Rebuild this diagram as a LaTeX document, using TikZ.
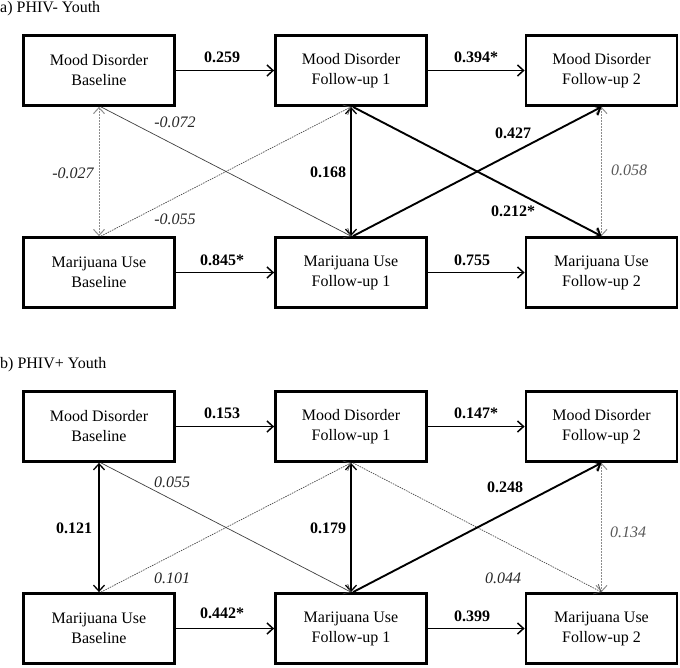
\documentclass[tikz,border=0pt]{standalone}
\usepackage{fontspec}
\setmainfont{Liberation Serif}
\usetikzlibrary{arrows.meta}
\begin{document}
\begin{tikzpicture}[x=1pt,y=-1pt,
  box/.style={draw,line width=2.8pt,minimum width=151pt,minimum height=70pt,align=center,inner sep=0pt,font=\fontsize{16}{20}\selectfont},
  ttl/.style={anchor=west,inner sep=0pt,font=\fontsize{16}{20}\selectfont},
  lb/.style={inner sep=0pt,font=\fontsize{16}{20}\selectfont\bfseries},
  li/.style={inner sep=0pt,text=black!85,font=\fontsize{16}{20}\selectfont\itshape},
  lg/.style={inner sep=0pt,text=black!65,font=\fontsize{16}{20}\selectfont\itshape},
  tip/.style={{Straight Barb[length=6pt,width=11pt]}},
  ar/.style={line width=1.5pt,-{Straight Barb[length=6pt,width=11pt]}},
  dar/.style={line width=1.3pt,{Straight Barb[length=6pt,width=11pt]}-{Straight Barb[length=6pt,width=11pt]}},
  gdar/.style={line width=1pt,black!45,dash pattern=on 2pt off 1pt,{Straight Barb[length=6pt,width=11pt]}-{Straight Barb[length=6pt,width=11pt]}},
  thick/.style={line width=1.9pt,-{Straight Barb[length=6pt,width=11pt]}},
  thin/.style={line width=0.7pt,black!75,-{Straight Barb[length=6pt,width=11pt]}},
  dthin/.style={line width=0.7pt,black!70,dash pattern=on 1.5pt off 1pt,-{Straight Barb[length=6pt,width=11pt]}}]
\useasboundingbox (0,0) rectangle (680,667);
\fill[white] (0,0) rectangle (680,667);
% ---------- panel a ----------
\node[ttl] (ta) at (0,9) {a) PHIV- Youth};
\node[box] (amd0) at (99,70.5) {Mood Disorder\\Baseline};
\node[box] (amd1) at (351,70.5) {Mood Disorder\\Follow-up 1};
\node[box] (amd2) at (601.5,70.5) {Mood Disorder\\Follow-up 2};
\node[box] (amu0) at (99,272.5) {Marijuana Use\\Baseline};
\node[box] (amu1) at (351,272.5) {Marijuana Use\\Follow-up 1};
\node[box] (amu2) at (601.5,272.5) {Marijuana Use\\Follow-up 2};
\draw[ar] (amd0) -- (amd1);
\draw[ar] (amd1) -- (amd2);
\draw[ar] (amu0) -- (amu1);
\draw[ar] (amu1) -- (amu2);
\draw[gdar] (amd0.south) -- (amu0.north);
\draw[dar] (amd1.south) -- (amu1.north);
\draw[gdar] (amd2.south) -- (amu2.north);
\draw[thin] ([xshift=2pt]amd0.south) -- (amu1.north);
\draw[dthin] ([xshift=2pt]amu0.north) -- (amd1.south);
\draw[thick] ([xshift=2pt]amd1.south) -- (amu2.north);
\draw[thick] ([xshift=2pt]amu1.north) -- (amd2.south);
\node[lb] (a1) at (222,57) {0.259};
\node[lb] (a2) at (476,57) {0.394*};
\node[lb] (a3) at (222,260) {0.845*};
\node[lb] (a4) at (472,260) {0.755};
\node[li] (a5) at (175,122) {-0.072};
\node[li] (a6) at (73,173) {-0.027};
\node[li] (a7) at (175,219) {-0.055};
\node[lb] (a8) at (328,172) {0.168};
\node[lb] (a9) at (513,133) {0.427};
\node[lg] (a10) at (629,170) {0.058};
\node[lb] (a11) at (513,211) {0.212*};
% ---------- panel b ----------
\node[ttl] (tb) at (0,365) {b) PHIV+ Youth};
\node[box] (bmd0) at (99,426.5) {Mood Disorder\\Baseline};
\node[box] (bmd1) at (351,426.5) {Mood Disorder\\Follow-up 1};
\node[box] (bmd2) at (601.5,426.5) {Mood Disorder\\Follow-up 2};
\node[box] (bmu0) at (99,628.5) {Marijuana Use\\Baseline};
\node[box] (bmu1) at (351,628.5) {Marijuana Use\\Follow-up 1};
\node[box] (bmu2) at (601.5,628.5) {Marijuana Use\\Follow-up 2};
\draw[ar] (bmd0) -- (bmd1);
\draw[ar] (bmd1) -- (bmd2);
\draw[ar] (bmu0) -- (bmu1);
\draw[ar] (bmu1) -- (bmu2);
\draw[dar] (bmd0.south) -- (bmu0.north);
\draw[dar] (bmd1.south) -- (bmu1.north);
\draw[gdar] (bmd2.south) -- (bmu2.north);
\draw[thin] ([xshift=2pt]bmd0.south) -- (bmu1.north);
\draw[dthin] ([xshift=2pt]bmu0.north) -- (bmd1.south);
\draw[dthin] ([xshift=2pt]bmd1.south) -- (bmu2.north);
\draw[thick] ([xshift=2pt]bmu1.north) -- (bmd2.south);
\node[lb] (b1) at (222,413) {0.153};
\node[lb] (b2) at (476,413) {0.147*};
\node[lb] (b3) at (222,613) {0.442*};
\node[lb] (b4) at (472,616) {0.399};
\node[li] (b5) at (172,482) {0.055};
\node[lb] (b6) at (74,528) {0.121};
\node[li] (b7) at (172,578) {0.101};
\node[lb] (b8) at (328,528) {0.179};
\node[lb] (b9) at (505,487) {0.248};
\node[lg] (b10) at (628,532) {0.134};
\node[li] (b11) at (503,578) {0.044};
\end{tikzpicture}
\end{document}
